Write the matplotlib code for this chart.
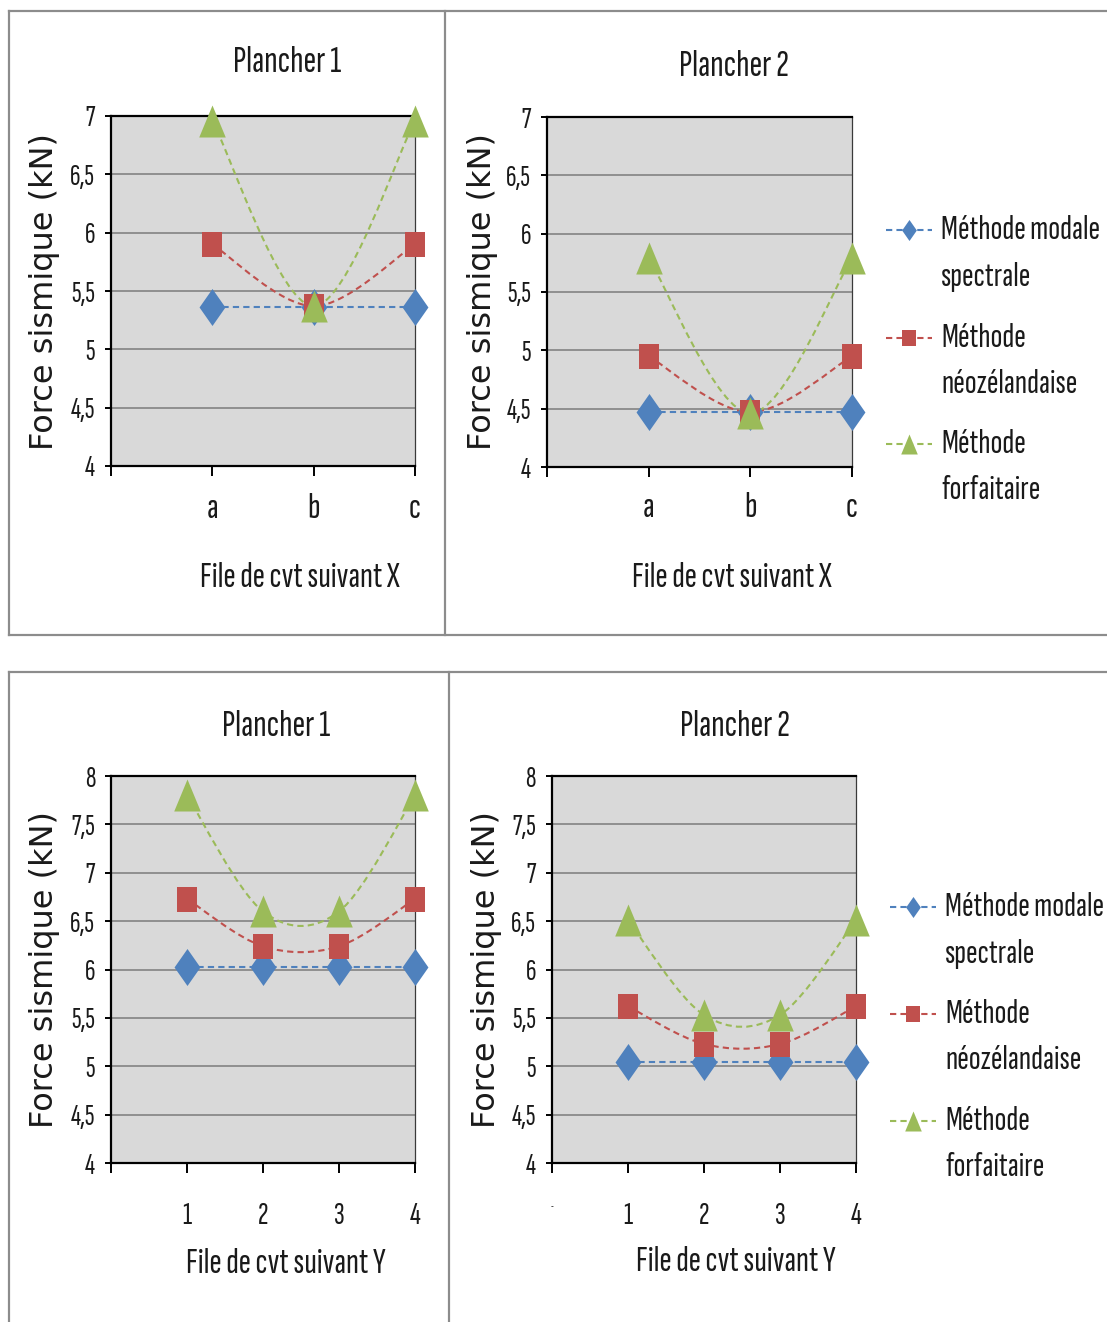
import matplotlib
matplotlib.use("Agg")
import matplotlib.pyplot as plt
from matplotlib import font_manager
from matplotlib.font_manager import FontProperties
from matplotlib.textpath import TextPath
from matplotlib.path import Path
from matplotlib.patches import PathPatch
from matplotlib.lines import Line2D

W, H, DPI = 1107, 1322, 100

# ---- data -------------------------------------------------------------
cats_x = ["a", "b", "c"]
cats_y = ["1", "2", "3", "4"]

# Plancher 1 / Plancher 2, files suivant X
p1x_modale = [5.36, 5.36, 5.36]
p1x_neo = [5.90, 5.37, 5.90]
p1x_forf = [6.96, 5.37, 6.96]
p2x_modale = [4.47, 4.47, 4.47]
p2x_neo = [4.95, 4.47, 4.95]
p2x_forf = [5.79, 4.46, 5.79]

# Plancher 1 / Plancher 2, files suivant Y
p1y_modale = [6.03, 6.03, 6.03, 6.03]
p1y_neo = [6.73, 6.24, 6.24, 6.73]
p1y_forf = [7.80, 6.60, 6.60, 7.80]
p2y_modale = [5.04, 5.04, 5.04, 5.04]
p2y_neo = [5.62, 5.23, 5.23, 5.62]
p2y_forf = [6.51, 5.53, 5.53, 6.51]

series_names = [("Méthode modale", "spectrale"),
                ("Méthode", "néozélandaise"),
                ("Méthode", "forfaitaire")]
titles = ["Plancher 1", "Plancher 2", "Plancher 1", "Plancher 2"]
xlabels = ["File de cvt suivant X", "File de cvt suivant X",
           "File de cvt suivant Y", "File de cvt suivant Y"]
ylabel = "Force sismique (kN)"
yticks_x = [4, 4.5, 5, 5.5, 6, 6.5, 7]
yticks_y = [4, 4.5, 5, 5.5, 6, 6.5, 7, 7.5, 8]

# ---- style ------------------------------------------------------------
BLUE, RED, GREEN = "#4F81BD", "#C0504D", "#9BBB59"
TXT = "#1a1a1a"
WIDE = "DejaVu Sans"
PT = 72 / DPI  # points per pixel


def _is_regular(f):
    return f.style == "normal" and f.weight in (400, "normal", "regular", "book")


def narrow_font():
    """Narrowest upright regular sans face available (width / cap height)."""
    best, best_ratio = None, None
    for f in font_manager.fontManager.ttflist:
        nm = f.name.lower()
        if not _is_regular(f):
            continue
        if "mono" in nm or "cjk" in nm or "serif" in nm:
            continue
        if not ("sans" in nm or nm in ("roboto", "lato", "inter")):
            continue
        try:
            fp = FontProperties(fname=f.fname)
            w = TextPath((0, 0), "Méthode", size=100, prop=fp).get_extents().width
            h = TextPath((0, 0), "H", size=100, prop=fp).get_extents().height
        except Exception:
            continue
        if h <= 0:
            continue
        ratio = w / h
        if best_ratio is None or ratio < best_ratio:
            best, best_ratio = fp, ratio
    return best if best is not None else FontProperties(family="Liberation Sans")


NARROW_FP = narrow_font()


def nfp(size):
    fp = NARROW_FP.copy()
    fp.set_size(size)
    return fp


def fit_size(text, width_px):
    """Font size (pt) giving the narrow face the requested text width."""
    w = TextPath((0, 0), text, size=100, prop=NARROW_FP).get_extents().width
    return 100 * (width_px * PT) / w


S_TITLE = fit_size("Plancher 1", 106)
S_XLAB = fit_size("File de cvt suivant X", 198)
S_LEG = fit_size("Méthode modale", 156)
S_YTICK = fit_size("6,5", 23)

DIAMOND = [(0, 1), (0.7, 0), (0, -1), (-0.7, 0), (0, 1)]
SQUARE = [(-0.83, -1), (0.83, -1), (0.83, 1), (-0.83, 1), (-0.83, -1)]
TRIANGLE = [(-0.83, -1), (0.83, -1), (0, 1), (-0.83, -1)]
DASH = (0, (3, 2))


def fx(x):
    return x / W


def fy(y):
    return 1 - y / H


def smooth_path(xs, ys):
    """Cubic Bezier through the points (Catmull-Rom style tangents)."""
    pts = list(zip(xs, ys))
    n = len(pts)
    verts, codes = [pts[0]], [Path.MOVETO]
    for i in range(n - 1):
        p0 = pts[i - 1] if i > 0 else pts[i]
        p1, p2 = pts[i], pts[i + 1]
        p3 = pts[i + 2] if i + 2 < n else pts[i + 1]
        c1 = (p1[0] + (p2[0] - p0[0]) / 6, p1[1] + (p2[1] - p0[1]) / 6)
        c2 = (p2[0] - (p3[0] - p1[0]) / 6, p2[1] - (p3[1] - p1[1]) / 6)
        verts += [c1, c2, p2]
        codes += [Path.CURVE4] * 3
    return Path(verts, codes)


fig = plt.figure(figsize=(W / DPI, H / DPI), dpi=DPI)
fig.patch.set_facecolor("white")

# chart frames
FRAME = "#8c8c8c"
frame_segments = [
    ((9, 11), (1107, 11)), ((9, 635), (1107, 635)),
    ((9, 11), (9, 635)), ((445, 11), (445, 635)),
    ((9, 672), (1107, 672)),
    ((9, 672), (9, 1322)), ((449, 672), (449, 1322)),
]
for (x0, y0), (x1, y1) in frame_segments:
    fig.add_artist(Line2D([fx(x0), fx(x1)], [fy(y0), fy(y1)],
                          transform=fig.transFigure, color=FRAME, lw=2.2 * PT))

panels = [
    dict(box=(111, 415, 116, 466), cats=cats_x, s=(p1x_modale, p1x_neo, p1x_forf),
         yt=yticks_x, title=(287, 62), xl=(300, 578), yl=(45, 292), pad=17,
         first="", xs=S_YTICK * 1.25),
    dict(box=(547, 852, 117, 467), cats=cats_x, s=(p2x_modale, p2x_neo, p2x_forf),
         yt=yticks_x, title=(734, 67), xl=(732, 578), yl=(482, 292), pad=15,
         first="", xs=S_YTICK * 1.25),
    dict(box=(111, 415, 776, 1163), cats=cats_y, s=(p1y_modale, p1y_neo, p1y_forf),
         yt=yticks_y, title=(276, 726), xl=(286, 1264), yl=(45, 970), pad=29,
         first="", xs=S_YTICK * 1.08),
    dict(box=(552, 856, 776, 1163), cats=cats_y, s=(p2y_modale, p2y_neo, p2y_forf),
         yt=yticks_y, title=(735, 726), xl=(736, 1262), yl=(487, 970), pad=29,
         first="-", xs=S_YTICK * 1.08),
]

for i, p in enumerate(panels):
    l, r, t, b = p["box"]
    ax = fig.add_axes([fx(l), fy(b), (r - l) / W, (b - t) / H])
    ax.set_facecolor("#D9D9D9")
    n = len(p["cats"])
    xs = list(range(1, n + 1))
    ax.set_xlim(0, n)
    ax.set_ylim(p["yt"][0], p["yt"][-1])

    ax.set_xticks(range(0, n + 1))
    ax.set_xticklabels([p["first"]] + p["cats"])
    ax.set_yticks(p["yt"])
    ax.set_yticklabels([("%g" % v).replace(".", ",") for v in p["yt"]])
    ax.tick_params(axis="y", direction="out", length=6 * PT, width=1.4,
                   pad=10 * PT, labelcolor=TXT)
    ax.tick_params(axis="x", direction="out", length=10 * PT, width=1.4,
                   pad=p["pad"] * PT, labelcolor=TXT)
    for lab in ax.get_yticklabels():
        lab.set_fontproperties(nfp(S_YTICK))
    for lab in ax.get_xticklabels():
        lab.set_fontproperties(nfp(p["xs"]))
    if p["first"]:
        ax.get_xticklabels()[0].set_fontsize(7)

    ax.yaxis.grid(True, color="#858585", lw=1.7 * PT)
    ax.set_axisbelow(True)
    for side in ("left", "bottom", "top"):
        ax.spines[side].set_color("black")
        ax.spines[side].set_linewidth(1.6)
    ax.spines["right"].set_color("#3a3a3a")
    ax.spines["right"].set_linewidth(0.9)

    modale, neo, forf = p["s"]
    # lines
    ax.plot(xs, modale, color=BLUE, lw=1.5, ls=DASH, zorder=3, clip_on=False)
    ax.add_patch(PathPatch(smooth_path(xs, neo), fill=False, edgecolor=RED,
                           lw=1.5, ls=DASH, zorder=3, clip_on=False))
    ax.add_patch(PathPatch(smooth_path(xs, forf), fill=False, edgecolor=GREEN,
                           lw=1.5, ls=DASH, zorder=3, clip_on=False))
    # markers
    ax.plot(xs, modale, ls="none", marker=DIAMOND, ms=37 * PT,
            color=BLUE, mew=0, zorder=4, clip_on=False)
    ax.plot(xs, neo, ls="none", marker=SQUARE, ms=25 * PT,
            color=RED, mew=0, zorder=5, clip_on=False)
    ax.plot(xs, forf, ls="none", marker=TRIANGLE, ms=32 * PT,
            color=GREEN, mew=0, zorder=6, clip_on=False)

    fig.text(fx(p["title"][0]), fy(p["title"][1]), titles[i], ha="center",
             va="center", fontproperties=nfp(S_TITLE), color=TXT)
    fig.text(fx(p["xl"][0]), fy(p["xl"][1]), xlabels[i], ha="center",
             va="center", fontproperties=nfp(S_XLAB), color=TXT)
    fig.text(fx(p["yl"][0]), fy(p["yl"][1]), ylabel, ha="center",
             va="center", rotation=90, family=WIDE, fontsize=23, color=TXT)


def draw_legend(x0, rows):
    styles = [(BLUE, DIAMOND, 21), (RED, SQUARE, 16), (GREEN, TRIANGLE, 20)]
    for (color, mk, sz), (y1, y2), (t1, t2) in zip(styles, rows, series_names):
        fig.add_artist(Line2D([fx(x0), fx(x0 + 46)], [fy(y1), fy(y1)],
                              transform=fig.transFigure, color=color,
                              lw=1.5, ls=DASH))
        fig.add_artist(Line2D([fx(x0 + 23)], [fy(y1)], transform=fig.transFigure,
                              ls="none", marker=mk, ms=sz * PT, color=color, mew=0))
        fig.text(fx(x0 + 55), fy(y1), t1, ha="left", va="center",
                 fontproperties=nfp(S_LEG), color=TXT)
        fig.text(fx(x0 + 55), fy(y2), t2, ha="left", va="center",
                 fontproperties=nfp(S_LEG), color=TXT)


draw_legend(886, [(230, 277), (338, 384), (444, 490)])
draw_legend(890, [(907, 954), (1014, 1060), (1121, 1167)])

fig.savefig("out.png", dpi=DPI, facecolor="white")
